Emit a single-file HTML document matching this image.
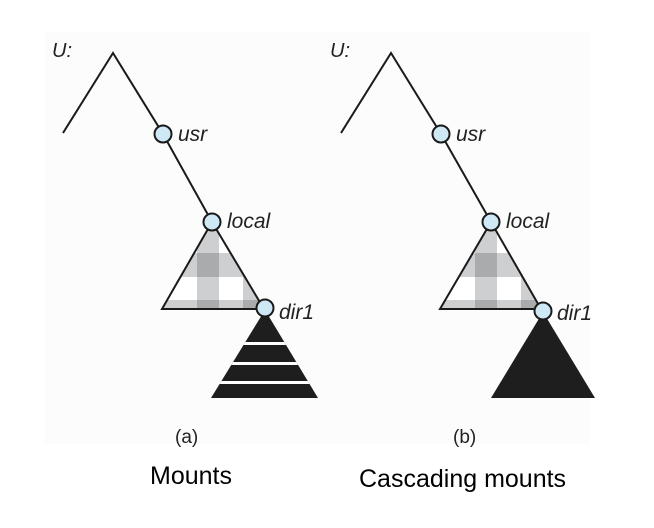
<!DOCTYPE html>
<html><head><style>
html,body{margin:0;padding:0;background:#fff;}
svg{display:block;}
text{font-family:"Liberation Sans",Arial,sans-serif;}
</style></head><body>
<svg width="654" height="528" viewBox="0 0 654 528" xmlns="http://www.w3.org/2000/svg">
<defs>
<clipPath id="ca"><polygon points="212,222 162,309 264,309"/></clipPath>
<clipPath id="cb"><polygon points="491,222 440,309 541,309"/></clipPath>
<clipPath id="sa"><polygon points="265,310 211,398 318,398"/></clipPath>
<g id="chk">
<rect x="-60" y="-10" width="120" height="100" fill="#fff"/>
<rect x="-16" y="-10" width="22" height="100" fill="#cdcfd1"/>
<rect x="30" y="-10" width="16" height="100" fill="#cdcfd1"/>
<rect x="-60" y="31" width="120" height="24" fill="#cdcfd1"/>
<rect x="-60" y="78" width="120" height="12" fill="#cdcfd1"/>
<rect x="-16" y="31" width="22" height="24" fill="#a9abad"/>
<rect x="30" y="31" width="16" height="24" fill="#a9abad"/>
<rect x="-16" y="78" width="22" height="12" fill="#a9abad"/>
<rect x="30" y="78" width="16" height="12" fill="#a9abad"/>
</g>
</defs>
<rect x="45" y="32" width="545" height="412" fill="#fcfcfc"/>
<!-- (a) -->
<text x="52" y="57" font-size="20" font-style="italic" fill="#222">U:</text>
<polyline points="63,133 113,53 163,134 212,222" fill="none" stroke="#1a1a1a" stroke-width="2"/>
<g clip-path="url(#ca)"><use href="#chk" transform="translate(213,222)"/></g>
<polygon points="212,222 162,309 264,309" fill="none" stroke="#1a1a1a" stroke-width="2"/>
<g clip-path="url(#sa)">
<rect x="200" y="305" width="130" height="100" fill="#1e1e1e"/>
<rect x="200" y="342" width="130" height="3" fill="#fff"/>
<rect x="200" y="362" width="130" height="3" fill="#fff"/>
<rect x="200" y="381" width="130" height="3" fill="#fff"/>
</g>
<circle cx="163" cy="134" r="8.5" fill="#cfe8f6" stroke="#1a1a1a" stroke-width="2"/>
<circle cx="212" cy="222" r="8.5" fill="#cfe8f6" stroke="#1a1a1a" stroke-width="2"/>
<circle cx="265" cy="308" r="8.5" fill="#cfe8f6" stroke="#1a1a1a" stroke-width="2"/>
<text x="178" y="141" font-size="21" font-style="italic" fill="#222">usr</text>
<text x="227" y="228" font-size="21" font-style="italic" fill="#222">local</text>
<text x="279" y="319" font-size="21" font-style="italic" fill="#222">dir1</text>
<text x="175" y="443" font-size="19" fill="#222">(a)</text>
<text x="150" y="484" font-size="25" fill="#000">Mounts</text>
<!-- (b) -->
<text x="330" y="57" font-size="20" font-style="italic" fill="#222">U:</text>
<polyline points="341,133 391,53 441,134 491,222" fill="none" stroke="#1a1a1a" stroke-width="2"/>
<g clip-path="url(#cb)"><use href="#chk" transform="translate(491,222)"/></g>
<polygon points="491,222 440,309 541,309" fill="none" stroke="#1a1a1a" stroke-width="2"/>
<polygon points="543,312 491,398 595,398" fill="#1e1e1e"/>
<circle cx="441" cy="134" r="8.5" fill="#cfe8f6" stroke="#1a1a1a" stroke-width="2"/>
<circle cx="491" cy="222" r="8.5" fill="#cfe8f6" stroke="#1a1a1a" stroke-width="2"/>
<circle cx="543" cy="311" r="8.5" fill="#cfe8f6" stroke="#1a1a1a" stroke-width="2"/>
<text x="456" y="141" font-size="21" font-style="italic" fill="#222">usr</text>
<text x="506" y="228" font-size="21" font-style="italic" fill="#222">local</text>
<text x="557" y="320" font-size="21" font-style="italic" fill="#222">dir1</text>
<text x="453" y="443" font-size="19" fill="#222">(b)</text>
<text x="359" y="487" font-size="25" fill="#000">Cascading mounts</text>
</svg>
</body></html>
